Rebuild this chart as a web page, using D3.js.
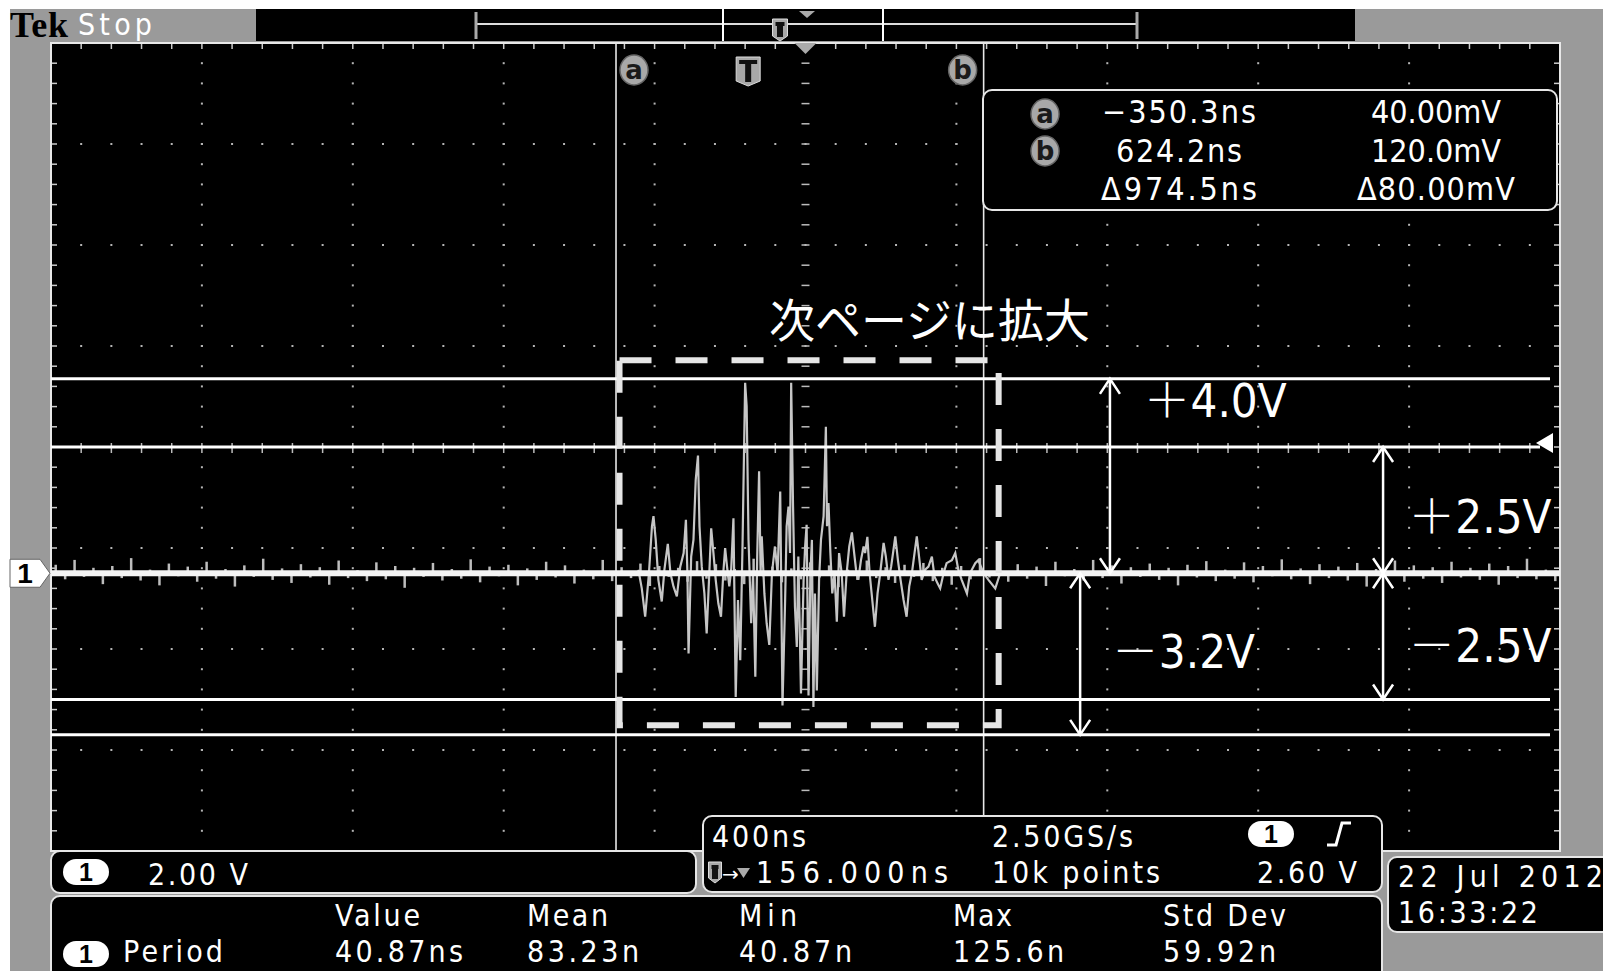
<!DOCTYPE html>
<html><head><meta charset="utf-8">
<script src="https://cdn.jsdelivr.net/npm/d3@7"></script>
<style>
html,body{margin:0;padding:0;background:#fff;}
svg{display:block;}
</style></head><body>
<svg id="c" width="1603" height="971"></svg>
<script>
// ---------------- DATA ----------------
const timePerDiv = 400;          // ns / div
const voltsPerDiv = 2.0;         // V / div
const screenCenterTime = 152;    // ns at graticule centre
const screenCenterVolt = 2.5;    // V at graticule centre (ground 1.25 div below)
const cursorTimes = [-350.3, 624.2];
const cursorNames = ["a", "b"];
const triggerTime = 0;
const triggerLevel = 2.6;
const refLevels = [3.85, 2.5, -2.5, -3.2];
const refLabelSign = ["＋", "＋", "－", "－"];
const refLabelText = ["4.0V", "2.5V", "2.5V", "3.2V"];
const zoomBox = {t0: -341, t1: 664, v0: -3.01, v1: 4.22};
const zoomCaption = "次ページに拡大";
// burst: [time ns, volts]
const burst = [[-291,0.07],[-282,-0.30],[-273,-0.86],[-263,0],[-255,0.93],[-251,1.13],[-245,0.66],[-238,-0.13],[-229,-0.56],[-222,0.07],[-213,0.58],[-206,0],[-198,-0.26],[-189,-0.46],[-180,0.13],[-171,0.40],[-165,1.06],[-161,0],[-158,-1.59],[-151,0.33],[-145,0.66],[-139,1.85],[-133,2.33],[-129,0.93],[-123,0.13],[-116,-0.40],[-110,-1.19],[-103,0],[-98,0.89],[-92,0.40],[-86,-0.13],[-79,-0.60],[-72,-0.86],[-66,0],[-61,0.50],[-56,0.13],[-50,-0.26],[-45,0.07],[-39,1.09],[-33,-2.45],[-27,-0.53],[-21,-1.72],[-15,0.53],[-8,3.77],[-4,3.31],[1,0.66],[8,-0.99],[13,0],[19,-2.05],[24,0.33],[29,2.02],[33,0],[36,0.73],[43,-0.40],[49,-0.99],[56,-1.42],[63,0],[71,0.53],[78,0],[85,1.62],[91,-2.62],[98,-0.53],[102,0.93],[107,1.32],[111,0.40],[114,3.77],[119,1.32],[124,-0.66],[129,-1.46],[133,0.33],[140,-2.38],[147,-0.13],[151,0.53],[155,0.96],[160,-2.42],[165,0],[169,0.66],[173,-2.65],[177,-0.40],[182,-2.32],[188,-0.13],[193,0.66],[200,1.13],[206,2.90],[209,0.93],[213,1.39],[218,0.40],[223,-0.40],[229,0],[235,-0.96],[241,0.40],[248,0],[254,-0.86],[261,0],[268,0.53],[275,0.81],[281,0.40],[286,0.07],[292,-0.13],[299,0.26],[306,0.53],[310,0.40],[316,0.72],[322,0],[329,-0.53],[336,-1.06],[343,-0.40],[350,0],[359,0.60],[365,0.33],[372,-0.13],[379,0.13],[384,0.40],[390,0.73],[397,0.26],[404,-0.13],[412,-0.53],[420,-0.86],[427,-0.26],[434,0],[441,0.40],[447,0.73],[453,0.33],[460,-0.13],[469,0.07],[478,0.13],[487,0.33],[494,-0.07],[502,-0.20],[509,-0.30],[518,0],[526,0.20],[540,0.26],[549,0.40],[557,0.07],[566,-0.13],[580,-0.40],[588,0],[602,0.20],[610,0.26],[624,0],[637,-0.13],[655,-0.30],[668,0]];
// baseline noise (V), one value per 25 ns across the record
const baselineNoise = [
0.14,-0.10,0.22,-0.06,0.09,-0.18,0.12,-0.08,0.25,-0.12,0.06,-0.20,0.16,-0.05,0.11,-0.14,0.19,-0.09,0.07,-0.22,
0.13,-0.06,0.24,-0.11,0.08,-0.16,0.15,-0.07,0.10,-0.19,0.21,-0.08,0.05,-0.13,0.18,-0.10,0.12,-0.24,0.09,-0.06,
0.17,-0.12,0.07,-0.09,0.23,-0.15,0.11,-0.05,0.14,-0.20,0.08,-0.11,0.19,-0.07,0.13,-0.17,0.06,-0.10,0.22,-0.13,
0.10,-0.08,0.16,-0.21,0.12,-0.06,0.09,-0.14,0.20,-0.09,0.15,-0.12,0.07,-0.18,0.24,-0.05,0.11,-0.15,0.08,-0.10,
0.18,-0.07,0.13,-0.23,0.06,-0.11,0.21,-0.08,0.10,-0.16,0.14,-0.06,0.17,-0.13,0.09,-0.19,0.12,-0.10,0.25,-0.07,
0.08,-0.14,0.15,-0.09,0.11,-0.21,0.19,-0.05,0.07,-0.12,0.22,-0.08,0.13,-0.17,0.10,-0.06,0.16,-0.11,0.09,-0.20,
0.14,-0.07,0.20,-0.13,0.06,-0.09,0.18,-0.15,0.12,-0.05,0.23,-0.10,0.08,-0.18,0.15,-0.08,0.11,-0.12,0.17,-0.22,
0.07,-0.06,0.21,-0.14,0.13,-0.09,0.10,-0.16,0.19,-0.07,0.09,-0.11,0.16,-0.19,0.12,-0.08,0.24,-0.10,0.06,-0.13];
const noiseStep = 25; // ns
// readouts
const cursorReadT = ["−350.3ns", "624.2ns", "Δ974.5ns"];
const cursorReadV = ["40.00mV", "120.0mV", "Δ80.00mV"];
const channelScale = "2.00 V";
const timebase = "400ns", sampleRate = "2.50GS/s", recordLen = "10k points";
const triggerDelay = "156.000ns", triggerLevelText = "2.60 V";
const dateText = "22 Jul  2012", timeText = "16:33:22";
const statHeaders = ["Value", "Mean", "Min", "Max", "Std Dev"];
const statValues = ["40.87ns", "83.23n", "40.87n", "125.6n", "59.92n"];
const statName = "Period";

// ---------------- LAYOUT ----------------
const NARROW = '"Liberation Sans Narrow","Arial Narrow","DejaVu Sans Condensed","Liberation Sans",sans-serif';
const CJK = '"Noto Sans CJK JP","Noto Sans CJK SC",sans-serif';
const svg = d3.select("#c");
const x = d3.scaleLinear()
  .domain([screenCenterTime - 5*timePerDiv, screenCenterTime + 5*timePerDiv]).range([51, 1560]);
const y = d3.scaleLinear()
  .domain([screenCenterVolt - 4*voltsPerDiv, screenCenterVolt + 4*voltsPerDiv]).range([851, 43]);
const [X0, X1] = x.range(), [Y1, Y0] = y.range();

function txt(p, s, px, py, o = {}) {
  const t = p.append("text").attr("x", px).attr("y", py).text(s)
    .attr("font-family", o.family || NARROW).attr("font-size", o.size || 30)
    .attr("fill", o.fill || "#fff");
  if (o.anchor) t.attr("text-anchor", o.anchor);
  if (o.width) t.attr("textLength", o.width).attr("lengthAdjust", "spacing");
  if (o.weight) t.attr("font-weight", o.weight);
  return t;
}
function pill(p, cx, cy) {
  p.append("rect").attr("x", cx-23).attr("y", cy-13).attr("width", 46).attr("height", 26)
    .attr("rx", 13).attr("fill", "#fff");
  txt(p, "1", cx, cy+9, {size: 25, fill: "#000", anchor: "middle", weight: "bold", family: '"Liberation Sans",sans-serif'});
}
function badge(p, cx, cy, letter) {
  p.append("ellipse").attr("cx", cx).attr("cy", cy).attr("rx", 14).attr("ry", 15)
    .attr("fill", "#a8a8a8").attr("stroke", "#666").attr("stroke-width", 1.5);
  txt(p, letter, cx, cy+9, {size: 26, fill: "#1a1a1a", anchor: "middle", weight: "bold", family: '"DejaVu Sans",sans-serif'});
}
function tBadge(p, cx, top, w, h) {
  p.append("path").attr("d", `M${cx-w/2},${top} h${w} v${h-5} l${-w/2},5 l${-w/2},-5 Z`)
    .attr("fill", "#a8a8a8").attr("stroke", "#ddd").attr("stroke-width", 1);
  p.append("path").attr("d", `M${cx-w/2+3},${top+3} h${w-6} v4 h${-(w-6)/2+3} v${h-11} h-6 v${-(h-11)} h${-(w-6)/2+3} Z`)
    .attr("fill", "#111");
}
function panel(p, x0, y0, x1, y1) {
  p.append("rect").attr("x", x0).attr("y", y0).attr("width", x1-x0).attr("height", y1-y0)
    .attr("rx", 9).attr("fill", "#000").attr("stroke", "#e6e6e6").attr("stroke-width", 2);
}

// ---------------- BACKGROUND ----------------
svg.append("rect").attr("width", 1603).attr("height", 971).attr("fill", "#fff");
svg.append("rect").attr("x", 10).attr("y", 9).attr("width", 1593).attr("height", 962).attr("fill", "#9a9a9a");
// top status bar
svg.append("rect").attr("x", 256).attr("y", 9).attr("width", 1099).attr("height", 32).attr("fill", "#000");
txt(svg, "Tek", 10, 37, {size: 36, fill: "#000", weight: "bold", family: '"Liberation Serif","DejaVu Serif",serif', width: 58});
txt(svg, "Stop", 78, 35, {size: 30, width: 74});
const bar = svg.append("g");
bar.append("line").attr("x1", 476).attr("x2", 1137).attr("y1", 24).attr("y2", 24).attr("stroke", "#ddd").attr("stroke-width", 2);
[476, 1137].forEach(bx => bar.append("line").attr("x1", bx).attr("x2", bx).attr("y1", 12).attr("y2", 39).attr("stroke", "#aaa").attr("stroke-width", 3));
[723, 883].forEach(bx => bar.append("line").attr("x1", bx).attr("x2", bx).attr("y1", 9).attr("y2", 41).attr("stroke", "#fff").attr("stroke-width", 2));
tBadge(bar, 780, 19, 15, 22);
bar.append("path").attr("d", "M799,11 L815,11 L807,18 Z").attr("fill", "#aaa");

// ---------------- GRATICULE ----------------
const grat = svg.append("g");
grat.append("rect").attr("x", X0).attr("y", Y0).attr("width", X1-X0).attr("height", Y1-Y0).attr("fill", "#000");
const minorT = d3.range(1, 50).map(k => x.domain()[0] + k*timePerDiv/5);
const minorV = d3.range(1, 40).map(k => y.domain()[0] + k*voltsPerDiv/5);
const gridT = d3.range(1, 10).map(i => x.domain()[0] + i*timePerDiv);
const gridV = d3.range(1, 8).map(j => y.domain()[0] + j*voltsPerDiv);
gridT.forEach((t, i) => {
  if (i === 4) return;
  grat.selectAll(null).data(minorV).join("rect").attr("x", x(t)-1).attr("y", v => y(v)-1)
    .attr("width", 2).attr("height", 2).attr("fill", "#b5b5b5");
});
gridV.forEach((v, j) => {
  if (j === 3) return;
  grat.selectAll(null).data(minorT).join("rect").attr("x", t => x(t)-1).attr("y", y(v)-1)
    .attr("width", 2).attr("height", 2).attr("fill", "#b5b5b5");
});
// centre lines with ticks
grat.selectAll(null).data(minorV).join("line").attr("x1", x(screenCenterTime)-4).attr("x2", x(screenCenterTime)+4)
  .attr("y1", v => y(v)).attr("y2", v => y(v)).attr("stroke", "#bbb").attr("stroke-width", 1.5);
grat.selectAll(null).data(minorT).join("line").attr("y1", y(screenCenterVolt)-4).attr("y2", y(screenCenterVolt)+6)
  .attr("x1", t => x(t)).attr("x2", t => x(t)).attr("stroke", "#bbb").attr("stroke-width", 1.5);
// border ticks
grat.selectAll(null).data(minorT).join("line").attr("x1", t => x(t)).attr("x2", t => x(t))
  .attr("y1", Y0).attr("y2", Y0+6).attr("stroke", "#ccc").attr("stroke-width", 1.5);
grat.selectAll(null).data(minorV).join("line").attr("y1", v => y(v)).attr("y2", v => y(v))
  .attr("x1", X0).attr("x2", X0+6).attr("stroke", "#ccc").attr("stroke-width", 1.5);
grat.selectAll(null).data(minorV).join("line").attr("y1", v => y(v)).attr("y2", v => y(v))
  .attr("x1", X1-6).attr("x2", X1).attr("stroke", "#ccc").attr("stroke-width", 1.5);
grat.append("rect").attr("x", X0).attr("y", Y0).attr("width", X1-X0).attr("height", Y1-Y0)
  .attr("fill", "none").attr("stroke", "#e8e8e8").attr("stroke-width", 2);
// centre marker on top border
grat.append("path").attr("d", `M${x(screenCenterTime)-11},${Y0} h22 l-11,11 Z`).attr("fill", "#aaa");

// ---------------- CURSORS ----------------
const cur = svg.append("g");
cursorTimes.forEach(t => cur.append("line").attr("x1", x(t)).attr("x2", x(t)).attr("y1", Y0).attr("y2", Y1)
  .attr("stroke", "#e8e8e8").attr("stroke-width", 1.6));

// ---------------- WAVEFORM ----------------
const wave = svg.append("g");
const noiseT = (i) => x.domain()[0] + (i + 0.5)*noiseStep;
wave.selectAll(null).data(baselineNoise).join("line")
  .attr("x1", (v, i) => x(noiseT(i))).attr("x2", (v, i) => x(noiseT(i)))
  .attr("y1", y(0)).attr("y2", v => y(v * 1.2)).attr("stroke", "#bdbdbd").attr("stroke-width", 2.5);
wave.append("path").datum(burst)
  .attr("d", d3.line().x(d => x(d[0])).y(d => y(d[1])))
  .attr("fill", "none").attr("stroke", "#c6c6c6").attr("stroke-width", 2.2).attr("stroke-linejoin", "miter");
wave.append("line").attr("x1", X0).attr("x2", X1).attr("y1", y(0)).attr("y2", y(0))
  .attr("stroke", "#f4f4f4").attr("stroke-width", 6);

// channel marker
svg.append("path").attr("d", `M10,${y(0)-14} H40 L50,${y(0)} L40,${y(0)+14} H10 Z`).attr("fill", "#fff").attr("stroke", "#666");
txt(svg, "1", 25, y(0)+10, {size: 28, fill: "#000", anchor: "middle", weight: "bold", family: '"Liberation Sans",sans-serif'});

// ---------------- ANNOTATIONS ----------------
const ann = svg.append("g");
refLevels.forEach(v => ann.append("line").attr("x1", X0).attr("x2", v === 2.5 ? 1540 : 1550)
  .attr("y1", y(v)).attr("y2", y(v)).attr("stroke", "#fff").attr("stroke-width", 3));
ann.append("path").attr("d", `M1536,${y(triggerLevel)+1} L1553,${y(triggerLevel)-9} L1553,${y(triggerLevel)+11} Z`).attr("fill", "#fff");
function arrow(t, v1, v2) {
  const ax = x(t), ya = y(v1), yb = y(v2), s = ya < yb ? 1 : -1;
  ann.append("line").attr("x1", ax).attr("x2", ax).attr("y1", ya).attr("y2", yb).attr("stroke", "#fff").attr("stroke-width", 2.5);
  ann.append("path").attr("d", `M${ax-10},${ya+s*15} L${ax},${ya} L${ax+10},${ya+s*15}`).attr("fill", "none").attr("stroke", "#fff").attr("stroke-width", 2.5);
  ann.append("path").attr("d", `M${ax-10},${yb-s*15} L${ax},${yb} L${ax+10},${yb-s*15}`).attr("fill", "none").attr("stroke", "#fff").attr("stroke-width", 2.5);
}
const arrowT = [959, 1683, 1683, 880];
const labelT = [1048, 1750, 1750, 964];
const labelV = [3.09, 0.79, -1.76, -1.88];
refLevels.forEach((v, i) => {
  arrow(arrowT[i], v, 0);
  const t = ann.append("text").attr("x", x(labelT[i])).attr("y", y(labelV[i])).attr("fill", "#fff").attr("font-size", 47);
  t.append("tspan").attr("font-family", CJK).attr("font-weight", 300).text(refLabelSign[i]);
  t.append("tspan").attr("font-family", NARROW).text(refLabelText[i]);
});
ann.append("rect").attr("x", x(zoomBox.t0)).attr("y", y(zoomBox.v1))
  .attr("width", x(zoomBox.t1) - x(zoomBox.t0)).attr("height", y(zoomBox.v0) - y(zoomBox.v1))
  .attr("fill", "none").attr("stroke", "#e6e6e6").attr("stroke-width", 6).attr("stroke-dasharray", "32 24");
txt(ann, zoomCaption, 769, 337, {size: 46, family: CJK});

// cursor badges
badge(cur, x(cursorTimes[0]) + 18, 70, cursorNames[0]);
badge(cur, x(cursorTimes[1]) - 21, 70, cursorNames[1]);
tBadge(cur, x(triggerTime), 57, 24, 29);

// cursor readout box
const rb = svg.append("g");
panel(rb, 983, 90, 1557, 210);
badge(rb, 1045, 114, cursorNames[0]);
badge(rb, 1045, 151, cursorNames[1]);
const rbW = [[154, 130], [126, 130], [156, 158]];
[123, 162, 200].forEach((by, i) => {
  txt(rb, cursorReadT[i], 1179, by, {size: 32, anchor: "middle", width: rbW[i][0]});
  txt(rb, cursorReadV[i], 1436, by, {size: 32, anchor: "middle", width: rbW[i][1]});
});

// ---------------- BOTTOM PANELS ----------------
const bp = svg.append("g");
panel(bp, 51, 851, 696, 893);
pill(bp, 86, 872);
txt(bp, channelScale, 148, 885, {width: 100});

panel(bp, 703, 816, 1382, 892);
txt(bp, timebase, 712, 847, {width: 94});
txt(bp, sampleRate, 992, 847, {width: 141});
pill(bp, 1271, 834);
bp.append("path").attr("d", "M1327,845 H1336 L1342,823 H1351").attr("fill", "none").attr("stroke", "#fff").attr("stroke-width", 3);
tBadge(bp, 715, 862, 13, 21);
txt(bp, "→", 722, 881, {size: 20, family: '"DejaVu Sans",sans-serif'});
bp.append("path").attr("d", "M737,868 h13 l-6.5,10 Z").attr("fill", "#aaa");
txt(bp, triggerDelay, 756, 883, {width: 192});
txt(bp, recordLen, 992, 883, {width: 168});
txt(bp, triggerLevelText, 1357, 883, {anchor: "end", width: 100});

panel(bp, 1388, 857, 1620, 932);
txt(bp, dateText, 1398, 887, {width: 205});
txt(bp, timeText, 1398, 923, {width: 140});

panel(bp, 51, 896, 1382, 990);
const colX = [335, 527, 739, 953, 1163];
const hdrW = [85, 81, 58, 59, 123];
const valW = [128, 112, 113, 111, 113];
statHeaders.forEach((h, i) => txt(bp, h, colX[i], 926, {width: hdrW[i]}));
pill(bp, 86, 954);
txt(bp, statName, 123, 962, {width: 100});
statValues.forEach((s, i) => txt(bp, s, colX[i], 962, {width: valW[i]}));
</script>
</body></html>
